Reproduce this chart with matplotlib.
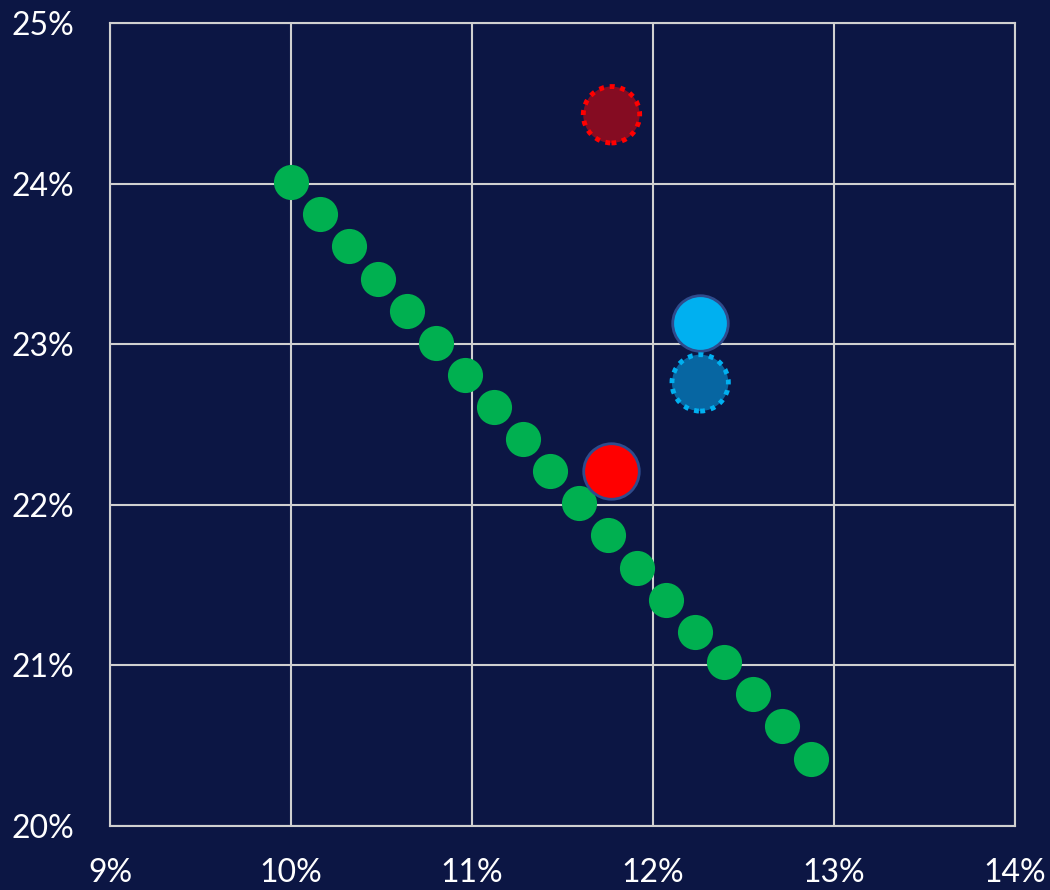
import matplotlib.pyplot as plt
from matplotlib.ticker import FuncFormatter

# frontier points
frontier_x = [10.00, 10.16, 10.32, 10.48, 10.64, 10.80, 10.96, 11.12, 11.28, 11.43,
              11.59, 11.75, 11.91, 12.07, 12.23, 12.39, 12.55, 12.71, 12.87]
frontier_y = [24.01, 23.81, 23.61, 23.41, 23.21, 23.01, 22.81, 22.61, 22.41, 22.21,
              22.01, 21.81, 21.61, 21.41, 21.21, 21.02, 20.82, 20.62, 20.42]

# highlighted portfolios
red_x, red_y = [11.77], [22.21]
darkred_x, darkred_y = [11.77], [24.43]
blue_x, blue_y = [12.26], [23.13]
darkblue_x, darkblue_y = [12.26], [22.76]

x_ticks = [9, 10, 11, 12, 13, 14]
y_ticks = [20, 21, 22, 23, 24, 25]

bg = "#0c1644"
grid_col = "#d0d0d0"

fig = plt.figure(figsize=(10.5, 8.9), dpi=100, facecolor=bg)
ax = fig.add_axes([0.1048, 0.0719, 0.862, 0.902], facecolor=bg)

ax.scatter(frontier_x, frontier_y, s=640, color="#00b050", linewidths=0, zorder=3)
ax.scatter(red_x, red_y, s=1600, color="#ff0000", edgecolors="#2f4b8c",
           linewidths=2, zorder=4)
ax.scatter(darkred_x, darkred_y, s=1650, color="#850c22", edgecolors="#ff0000",
           linewidths=3.5, linestyles=(0, (1, 1.2)), zorder=4)
ax.scatter(blue_x, blue_y, s=1600, color="#00b0f0", edgecolors="#2f4b8c",
           linewidths=2, zorder=4)
ax.scatter(darkblue_x, darkblue_y, s=1650, color="#0766a2", edgecolors="#00b0f0",
           linewidths=3.5, linestyles=(0, (1, 1.2)), zorder=4)

ax.set_xlim(9, 14)
ax.set_ylim(20, 25)
ax.set_xticks(x_ticks)
ax.set_yticks(y_ticks)
pct = FuncFormatter(lambda v, _: f"{v:.0f}%")
ax.xaxis.set_major_formatter(pct)
ax.yaxis.set_major_formatter(pct)

ax.grid(True, color=grid_col, linewidth=1.5, zorder=1)
ax.set_axisbelow(True)
for sp in ax.spines.values():
    sp.set_color(grid_col)
    sp.set_linewidth(1.5)

ax.tick_params(length=0, colors="white", labelsize=23)
ax.tick_params(axis="x", pad=23)
ax.tick_params(axis="y", pad=26)
for lab in ax.get_xticklabels() + ax.get_yticklabels():
    lab.set_family(["Lato", "DejaVu Sans"])

fig.savefig("out.png", dpi=100, facecolor=bg)
